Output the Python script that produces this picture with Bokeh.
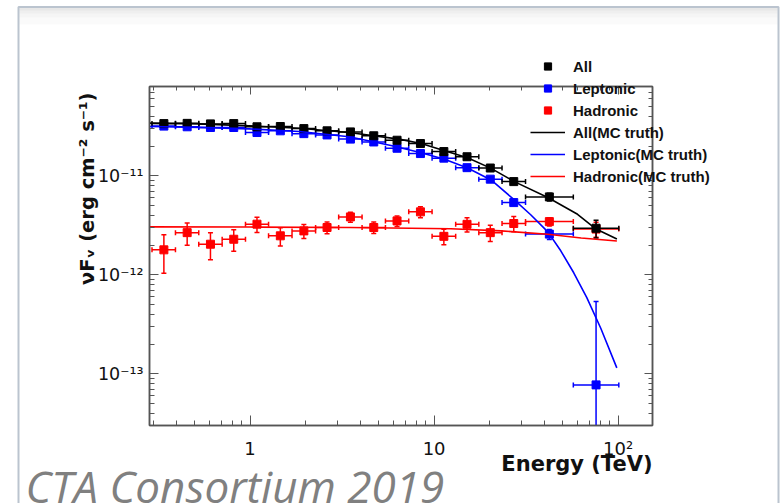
import numpy as np
from math import pi
from bokeh.plotting import figure
from bokeh.models import (FixedTicker, LogAxis, Legend, LegendItem, Label, BoxAnnotation,
                          CustomJSTickFormatter, ColumnDataSource, Range1d, GridBox, Plot)
from bokeh.layouts import column
from bokeh.embed import file_html
from bokeh.resources import INLINE

# ---------------- data ----------------
energy = [0.340, 0.455, 0.609, 0.815, 1.09, 1.46, 1.96, 2.62, 3.51, 4.70,
          6.29, 8.43, 11.3, 15.1, 20.2, 27.1, 42.3, 75.9]          # TeV, bin centres
energy_lo = [0.293, 0.393, 0.526, 0.705, 0.944, 1.26, 1.69, 2.27, 3.03, 4.06,
             5.44, 7.28, 9.75, 13.1, 17.5, 23.4, 31.4, 57.1]        # TeV, bin low edge
energy_hi = [0.393, 0.526, 0.705, 0.944, 1.26, 1.69, 2.27, 3.03, 4.06, 5.44,
             7.28, 9.75, 13.1, 17.5, 23.4, 31.4, 57.1, 100.9]       # TeV, bin high edge

all_flux = [3.37e-11, 3.39e-11, 3.35e-11, 3.37e-11, 3.13e-11, 3.15e-11, 3.00e-11, 2.85e-11,
            2.78e-11, 2.54e-11, 2.29e-11, 2.12e-11, 1.76e-11, 1.56e-11, 1.20e-11, 8.75e-12,
            6.13e-12, 2.96e-12]
all_err = [8e-13, 8e-13, 7e-13, 7e-13, 7e-13, 7e-13, 7e-13, 6e-13, 6e-13, 6e-13,
           5e-13, 5e-13, 5e-13, 5e-13, 4e-13, 5e-13, 5.5e-13, 6e-13]

lep_flux = [3.18e-11, 3.13e-11, 3.08e-11, 3.08e-11, 2.74e-11, 2.85e-11, 2.67e-11, 2.59e-11,
            2.35e-11, 2.20e-11, 1.90e-11, 1.68e-11, 1.51e-11, 1.21e-11, 9.26e-12, 5.37e-12,
            2.58e-12, 7.74e-14]
lep_err = [8e-13, 8e-13, 7e-13, 7e-13, 7e-13, 7e-13, 7e-13, 6e-13, 6e-13, 6e-13,
           5e-13, 5e-13, 5e-13, 5e-13, 4e-13, 3e-13, 3e-13, 4.6e-13]

had_flux = [1.79e-12, 2.67e-12, 2.04e-12, 2.29e-12, 3.25e-12, 2.48e-12, 2.78e-12, 3.01e-12,
            3.85e-12, 3.01e-12, 3.51e-12, 4.33e-12, 2.45e-12, 3.24e-12, 2.67e-12, 3.30e-12,
            3.45e-12, 2.90e-12]
had_err = [7.5e-13, 6.8e-13, 6.2e-13, 5.6e-13, 5.7e-13, 5.2e-13, 4.5e-13, 4.1e-13, 4.5e-13,
           4.0e-13, 4.3e-13, 5.5e-13, 4.4e-13, 5.3e-13, 5.0e-13, 5.8e-13, 3.3e-13, 5.0e-13]

# MC truth model curves
all_mc_E = [0.284, 0.528, 0.988, 1.85, 3.45, 6.45, 8.5, 11.4, 15.2, 20.4, 27.3, 41.5, 60.2, 75.9, 98.5]
all_mc_F = [3.41e-11, 3.35e-11, 3.20e-11, 3.03e-11, 2.74e-11, 2.35e-11, 2.12e-11, 1.79e-11,
            1.52e-11, 1.19e-11, 8.75e-12, 6.04e-12, 4.09e-12, 2.90e-12, 2.30e-12]
lep_mc_E = [0.284, 0.528, 0.988, 1.85, 3.45, 5.83, 8.5, 11.4, 15.2, 20.4, 27.3, 33.5,
            41.5, 48.8, 57.4, 67.6, 80.5, 98.4]
lep_mc_F = [3.15e-11, 3.09e-11, 2.98e-11, 2.81e-11, 2.48e-11, 2.03e-11, 1.71e-11, 1.47e-11,
            1.20e-11, 9.1e-12, 5.72e-12, 4.05e-12, 2.72e-12, 1.75e-12, 1.05e-12, 5.88e-13,
            2.89e-13, 1.15e-13]
had_mc_E = [0.284, 1.0, 3.5, 12.3, 23.1, 41.5, 63.0, 98.5]
had_mc_F = [3.05e-12, 3.04e-12, 3.01e-12, 2.92e-12, 2.78e-12, 2.57e-12, 2.36e-12, 2.20e-12]

x_major = [1, 10, 100]
x_major_labels = ["1", "10", "10²"]
y_major = [1e-13, 1e-12, 1e-11]
y_major_labels = ["10⁻¹³", "10⁻¹²", "10⁻¹¹"]
minor_mult = [2, 3, 4, 5, 6, 7, 8, 9]
x_minor = [m * d for d in [0.1, 1, 10, 100] for m in minor_mult]
y_minor = [m * d for d in [1e-14, 1e-13, 1e-12, 1e-11] for m in minor_mult]

series_labels = ["All", "Leptonic", "Hadronic", "All(MC truth)", "Leptonic(MC truth)", "Hadronic(MC truth)"]
x_title = "Energy (TeV)"
y_title = "νFᵥ (erg cm⁻² s⁻¹)"
credit = "CTA Consortium 2019"

BLACK, BLUE, RED = "#000000", "#0000ff", "#ff0000"
AX = "#555555"
TICK_FONT = "DejaVu Sans"

# ---------------- main chart ----------------
X0, X1 = 0.284, 153.8
Y0, Y1 = 3.01e-14, 7.99e-11
p = figure(width=781, height=503, x_axis_type="log", y_axis_type="log",
           x_range=Range1d(X0, X1), y_range=Range1d(Y0, Y1),
           output_backend="svg", toolbar_location=None,
           min_border_left=149, min_border_right=129, min_border_top=86, min_border_bottom=78)
p.grid.visible = False
p.outline_line_color = AX
p.outline_line_width = 1.5
p.background_fill_color = "white"
p.border_fill_color = "white"


def label_formatter(vals, labs):
    return CustomJSTickFormatter(args=dict(vals=vals, labs=labs), code="""
        for (let i = 0; i < vals.length; i++) {
            if (Math.abs(Math.log10(vals[i]) - Math.log10(tick)) < 1e-6) return labs[i];
        }
        return '';
    """)


def style_axis(ax, major_in, minor_in):
    ax.axis_line_color = AX
    ax.axis_line_width = 1.5
    ax.major_tick_line_color = AX
    ax.minor_tick_line_color = AX
    ax.major_tick_in = major_in
    ax.major_tick_out = 0
    ax.minor_tick_in = minor_in
    ax.minor_tick_out = 0


xa = p.xaxis[0]
xa.ticker = FixedTicker(ticks=x_major, minor_ticks=x_minor)
xa.formatter = label_formatter(x_major, x_major_labels)
style_axis(xa, 10, 5)
xa.major_label_text_font = TICK_FONT
xa.major_label_text_font_size = "18px"
xa.major_label_text_color = "#111111"
xa.major_label_standoff = 12

ya = p.yaxis[0]
ya.ticker = FixedTicker(ticks=y_major, minor_ticks=y_minor)
ya.formatter = label_formatter(y_major, y_major_labels)
style_axis(ya, 9, 5)
ya.major_label_text_font = TICK_FONT
ya.major_label_text_font_size = "17.5px"
ya.major_label_text_color = "#111111"
ya.major_label_standoff = 6

top = LogAxis(ticker=FixedTicker(ticks=x_major, minor_ticks=x_minor),
              formatter=CustomJSTickFormatter(code="return '';"))
style_axis(top, 8, 4)
p.add_layout(top, "above")
right = LogAxis(ticker=FixedTicker(ticks=y_major, minor_ticks=y_minor),
                formatter=CustomJSTickFormatter(code="return '';"))
style_axis(right, 8, 4)
p.add_layout(right, "right")

floor = Y0 * 1e-3


def draw_series(fig, flux, err, color):
    f = np.array(flux)
    e = np.array(err)
    src = ColumnDataSource(dict(x=energy, xlo=energy_lo, xhi=energy_hi, y=f,
                                ylo=np.maximum(f - e, floor), yhi=f + e))
    kw = dict(source=src, line_color=color, line_width=1.5)
    fig.segment(x0="xlo", x1="xhi", y0="y", y1="y", **kw)
    fig.segment(x0="x", x1="x", y0="ylo", y1="yhi", **kw)
    fig.scatter(x="xlo", y="y", marker="dash", angle=pi / 2, size=5, **kw)
    fig.scatter(x="xhi", y="y", marker="dash", angle=pi / 2, size=5, **kw)
    fig.scatter(x="x", y="ylo", marker="dash", size=5, **kw)
    fig.scatter(x="x", y="yhi", marker="dash", size=5, **kw)
    fig.scatter(x="x", y="y", marker="square", size=8, source=src,
                fill_color=color, line_color=color)


draw_series(p, had_flux, had_err, RED)
draw_series(p, lep_flux, lep_err, BLUE)
draw_series(p, all_flux, all_err, BLACK)

p.line(all_mc_E, all_mc_F, line_color=BLACK, line_width=1.6)
p.line(lep_mc_E, lep_mc_F, line_color=BLUE, line_width=1.6)
p.line(had_mc_E, had_mc_F, line_color=RED, line_width=1.6)

# ---------------- overlay: titles, legend, slide decoration ----------------
W, H = 781, 503
ov = figure(width=W, height=H, x_range=Range1d(0, W), y_range=Range1d(H, 0),
            output_backend="svg", toolbar_location=None,
            min_border_left=0, min_border_right=0, min_border_top=0, min_border_bottom=0,
            x_axis_location=None, y_axis_location=None)
ov.grid.visible = False
ov.outline_line_color = None
ov.background_fill_color = None
ov.border_fill_color = None

# legend-only swatch renderers: a single datum placed off the canvas
off = dict(x=[-100, -100], y=[-100, -90])
g_all = ov.scatter(marker="square", size=8, fill_color=BLACK, line_color=BLACK, **off)
g_lep = ov.scatter(marker="square", size=8, fill_color=BLUE, line_color=BLUE, **off)
g_had = ov.scatter(marker="square", size=8, fill_color=RED, line_color=RED, **off)
g_all_l = ov.line(line_color=BLACK, line_width=1.6, **off)
g_lep_l = ov.line(line_color=BLUE, line_width=1.6, **off)
g_had_l = ov.line(line_color=RED, line_width=1.6, **off)

legend = Legend(items=[LegendItem(label=lab, renderers=[r]) for lab, r in
                       zip(series_labels, [g_all, g_lep, g_had, g_all_l, g_lep_l, g_had_l])],
                location=(530, 318), orientation="vertical",
                glyph_width=35, glyph_height=18, label_height=18, spacing=4,
                label_standoff=8, padding=0, margin=0,
                border_line_alpha=0, background_fill_alpha=0,
                label_text_font="Liberation Sans", label_text_font_style="bold",
                label_text_font_size="15px", label_text_color="#111111")
ov.add_layout(legend)

ov.add_layout(Label(x=87, y=92, angle=pi / 2, text=y_title,
                    text_align="right", text_baseline="alphabetic",
                    text_font="DejaVu Sans", text_font_style="bold", text_font_size="19.5px",
                    text_color="#111111"))
ov.add_layout(Label(x=652, y=463, text=x_title,
                    text_align="right", text_baseline="alphabetic",
                    text_font="DejaVu Sans", text_font_style="bold", text_font_size="21px",
                    text_color="#111111"))

for bot, a in [(24, 0.02), (17, 0.02), (13, 0.025), (10, 0.03)]:
    ov.add_layout(BoxAnnotation(left=19, right=777, top=7.5, bottom=bot,
                                fill_color="#000000", fill_alpha=a, line_alpha=0))
ov.add_layout(BoxAnnotation(left=18, right=778, top=6.5, bottom=530,
                            fill_alpha=0, line_color="#1f3a5f", line_width=2))
ov.add_layout(Label(x=25, y=485, text=credit, text_align="left", text_baseline="alphabetic",
                    text_font="Open Sans", text_font_style="italic", text_font_size="44px",
                    text_color="#808080"))

if "frame_align" in Plot.properties():
    p.frame_align = False
    ov.frame_align = False
    layout = GridBox(children=[(p, 0, 0), (ov, 0, 0)])
else:
    ov.styles = {"position": "absolute", "left": "0px", "top": "0px"}
    layout = column(p, ov, styles={"position": "relative"})
open("out.html", "w").write(file_html(layout, INLINE))
